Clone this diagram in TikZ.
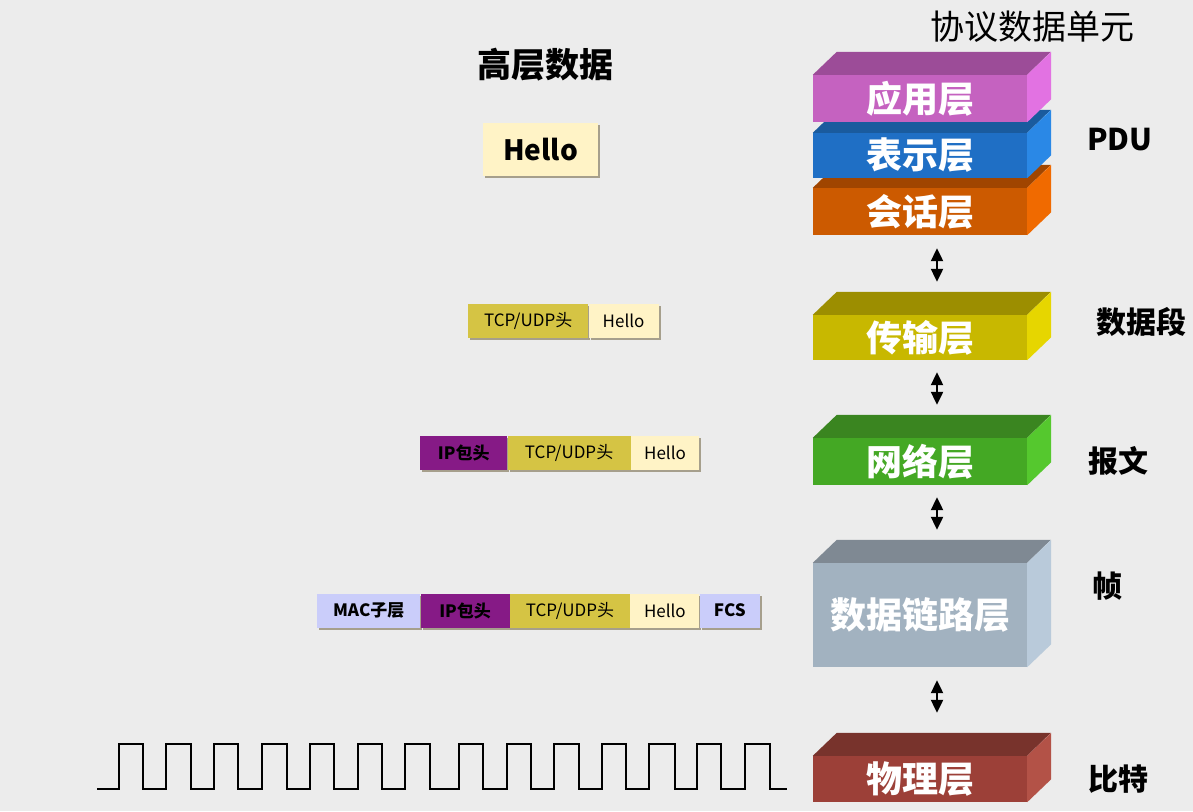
\documentclass[tikz,border=0pt]{standalone}
\usepackage{fontspec}
\setmainfont{Noto Sans CJK SC}
\usepackage{tikz}
\usetikzlibrary{arrows.meta,calc,positioning,shadows}
\definecolor{Paper}{HTML}{ECECEC}
\definecolor{Shade}{HTML}{A69F8C}
\definecolor{TcpY}{HTML}{D5C444}
\definecolor{HelloC}{HTML}{FFF3C6}
\definecolor{IpP}{HTML}{861A86}
\definecolor{MacL}{HTML}{CACDFA}
\definecolor{AppF}{HTML}{C562C0}
\definecolor{AppT}{HTML}{9C4C98}
\definecolor{AppS}{HTML}{E272E2}
\definecolor{PresF}{HTML}{1F6FC5}
\definecolor{PresT}{HTML}{1A5B9E}
\definecolor{PresS}{HTML}{2A88E6}
\definecolor{SessF}{HTML}{CC5A00}
\definecolor{SessT}{HTML}{A04500}
\definecolor{SessS}{HTML}{F06A00}
\definecolor{TransF}{HTML}{C8B800}
\definecolor{TransT}{HTML}{9C8E00}
\definecolor{TransS}{HTML}{E6D600}
\definecolor{NetF}{HTML}{44A824}
\definecolor{NetT}{HTML}{3A8520}
\definecolor{NetS}{HTML}{55C82E}
\definecolor{LinkF}{HTML}{A2B2C0}
\definecolor{LinkT}{HTML}{7F8993}
\definecolor{LinkS}{HTML}{B9CADA}
\definecolor{PhysF}{HTML}{9C4038}
\definecolor{PhysT}{HTML}{78332C}
\definecolor{PhysS}{HTML}{B35247}

\begin{document}
\begin{tikzpicture}[x=1pt,y=-1pt,
  layer/.style={rectangle,inner sep=0pt,minimum width=214pt,text=white,
    font=\fontsize{36}{38}\selectfont\bfseries},
  cell/.style={rectangle,inner sep=0pt,minimum height=34pt,anchor=west,
    font=\fontsize{17}{19}\selectfont,
    drop shadow={shadow xshift=2pt,shadow yshift=-2pt,fill=Shade,opacity=1}},
  boldcell/.style={cell,font=\fontsize{17}{19}\selectfont\bfseries},
  pdu/.style={font=\fontsize{30}{32}\selectfont\bfseries},
  updown/.style={{Triangle[length=13pt,width=12pt]}-{Triangle[length=13pt,width=12pt]},
    line width=2.2pt}]
\useasboundingbox (0,0) rectangle (1193,811);
\fill[Paper] (0,0) rectangle (1193,811);

% Headings.
\node[font=\fontsize{34}{36}\selectfont] (pdutitle) at (1032,27) {协议数据单元};
\node[font=\fontsize{34}{36}\selectfont\bfseries] (datatitle) at (545,65) {高层数据};

% Layer blocks, drawn from the bottom up.
\foreach \nm/\yt/\yb/\fc/\tc/\sc/\txt in {
    phys/756/802/PhysF/PhysT/PhysS/物理层,
    link/563/667/LinkF/LinkT/LinkS/数据链路层,
    net/438/485/NetF/NetT/NetS/网络层,
    trans/315/360/TransF/TransT/TransS/传输层,
    sess/188/235/SessF/SessT/SessS/会话层,
    pres/133/178/PresF/PresT/PresS/表示层,
    app/75/122/AppF/AppT/AppS/应用层} {
  \node[layer,fill=\fc,minimum height={(\yb-\yt)*1pt}] (\nm) at (920,{(\yt+\yb)/2}) {\raisebox{-3pt}{\txt}};
  \fill[\tc] (\nm.north west) -- ++(24,-23) -- ++(214,0) -- (\nm.north east) -- cycle;
  \fill[\sc] (\nm.north east) -- ++(24,-23) -- ($(\nm.south east)+(24,-23)$)
    -- (\nm.south east) -- cycle;
}

\foreach \a/\b/\s/\e in {sess/trans/13/33,trans/net/12/33,net/link/12/33,link/phys/13/43}
  \draw[updown] ([xshift=17pt,yshift=-\s pt]\a.south) -- ([xshift=17pt,yshift=\e pt]\b.north);

% PDU names.
\node[pdu] (nmpdu) at (1120,140) {PDU};
\node[pdu] (nmseg) at (1141,322) {数据段};
\node[pdu] (nmpkt) at (1118,461) {报文};
\node[pdu] (nmframe) at (1107,586) {帧};
\node[pdu] (nmbit) at (1118,779) {比特};

% Encapsulated data.
\node[cell,fill=HelloC,minimum width=115pt,minimum height=53pt,
  font=\fontsize{28}{30}\selectfont\bfseries] (hello0) at (483,149.5) {Hello};

\node[cell,fill=TcpY,minimum width=120pt] (tcp1) at (468,320.5) {TCP/UDP头};
\node[cell,fill=HelloC,minimum width=70pt,right=0pt of tcp1] (hello1) {Hello};

\node[boldcell,fill=IpP,minimum width=87pt] (ip2) at (420,453) {IP包头};
\node[cell,fill=TcpY,minimum width=123pt,right=0pt of ip2] (tcp2) {TCP/UDP头};
\node[cell,fill=HelloC,minimum width=68pt,right=0pt of tcp2] (hello2) {Hello};

\node[boldcell,fill=MacL,minimum width=103pt] (mac3) at (317,610.5) {MAC子层};
\node[boldcell,fill=IpP,minimum width=89pt,right=0pt of mac3] (ip3) {IP包头};
\node[cell,fill=TcpY,minimum width=120pt,right=0pt of ip3] (tcp3) {TCP/UDP头};
\node[cell,fill=HelloC,minimum width=69pt,right=0pt of tcp3] (hello3) {Hello};
\node[boldcell,fill=MacL,minimum width=60pt,right=0pt of hello3] (fcs3) {FCS};

% Bit stream.
\draw[line width=2.5pt] (97,789)
  foreach \r/\f in {119/143,166/191,214/238,262/287,310/334,358/382,405/430,
                    459/483,507/531,554/579,602/626,649/675,697/721,745/770}
  { -- (\r,789) -- (\r,744) -- (\f,744) -- (\f,789) } -- (787,789);
\end{tikzpicture}
\end{document}
